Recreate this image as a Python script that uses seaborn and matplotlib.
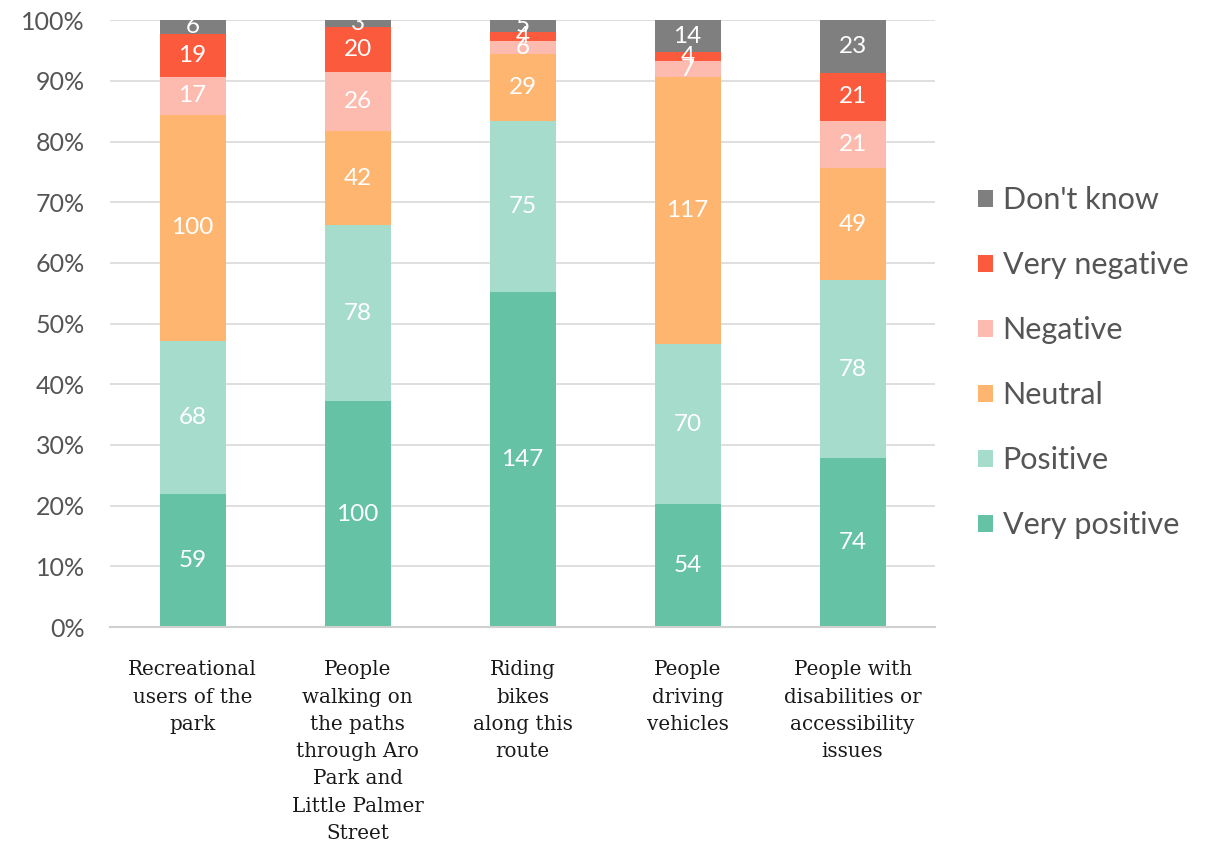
import matplotlib
matplotlib.use("Agg")
import matplotlib.pyplot as plt
import seaborn as sns
import numpy as np
import pandas as pd
from matplotlib.patches import Patch
from matplotlib.ticker import PercentFormatter

groups = [
    "Recreational\nusers of the\npark",
    "People\nwalking on\nthe paths\nthrough Aro\nPark and\nLittle Palmer\nStreet",
    "Riding\nbikes\nalong this\nroute",
    "People\ndriving\nvehicles",
    "People with\ndisabilities or\naccessibility\nissues",
]
responses = ["Very positive", "Positive", "Neutral", "Negative", "Very negative", "Don't know"]
very_positive = [59, 100, 147, 54, 74]
positive = [68, 78, 75, 70, 78]
neutral = [100, 42, 29, 117, 49]
negative = [17, 26, 6, 7, 21]
very_negative = [19, 20, 4, 4, 21]
dont_know = [6, 3, 5, 14, 23]
colors = ["#66c2a5", "#a6dccb", "#fdb56f", "#fcbbae", "#fc5a3c", "#7f7f7f"]

sns.set_theme(style="white")
plt.rcParams["font.family"] = ["Lato", "DejaVu Sans"]

counts = np.array([very_positive, positive, neutral, negative, very_negative, dont_know], dtype=float)
totals = counts.sum(axis=0)
shares = counts / totals * 100
tops = np.cumsum(shares, axis=0)
bottoms = tops - shares

fig = plt.figure(figsize=(12.25, 8.42), dpi=100)
ax = fig.add_axes([0.0898, 0.2553, 0.6735, 0.7207])

# stacked bars: draw cumulative heights from the top layer down
for i in range(len(responses) - 1, -1, -1):
    df = pd.DataFrame({"group": groups, "share": tops[i]})
    sns.barplot(data=df, x="group", y="share", color=colors[i], width=0.4,
                saturation=1, ax=ax, edgecolor="none", linewidth=0, zorder=2)

for i in range(len(responses)):
    for j in range(len(groups)):
        mid = (bottoms[i, j] + tops[i, j]) / 2
        ax.text(j, mid, f"{int(counts[i, j])}", ha="center", va="center",
                color="white", fontsize=17.5, zorder=3)

ax.set_ylim(0, 100)
ax.set_xlim(-0.5, 4.5)
ax.yaxis.set_major_locator(plt.MultipleLocator(10))
ax.yaxis.set_major_formatter(PercentFormatter(decimals=0))
ax.grid(axis="y", color="#d9d9d9", linewidth=1.2, zorder=0)
ax.set_axisbelow(True)
for s in ["left", "right", "top"]:
    ax.spines[s].set_visible(False)
ax.spines["bottom"].set_color("#d0d0d0")
ax.spines["bottom"].set_linewidth(1.5)
ax.set_xlabel("")
ax.set_ylabel("")
ax.tick_params(axis="y", labelsize=18, colors="#555555", length=0, pad=18)
ax.tick_params(axis="x", length=0, pad=24)
for lbl in ax.get_xticklabels():
    lbl.set_family(["DejaVu Serif"])
    lbl.set_fontsize(14.3)
    lbl.set_color("#1a1a1a")
    lbl.set_linespacing(1.55)
    lbl.set_va("top")

handles = [Patch(facecolor=colors[i], edgecolor="none", label=responses[i])
           for i in range(len(responses) - 1, -1, -1)]
leg = fig.legend(handles=handles, loc="upper left", bbox_to_anchor=(0.786, 0.797),
                 frameon=False, fontsize=22, handlelength=0.5, handleheight=0.5,
                 handletextpad=0.3, labelspacing=1.21, borderpad=0)
for t in leg.get_texts():
    t.set_color("#555555")

fig.savefig("out.png", dpi=100)
